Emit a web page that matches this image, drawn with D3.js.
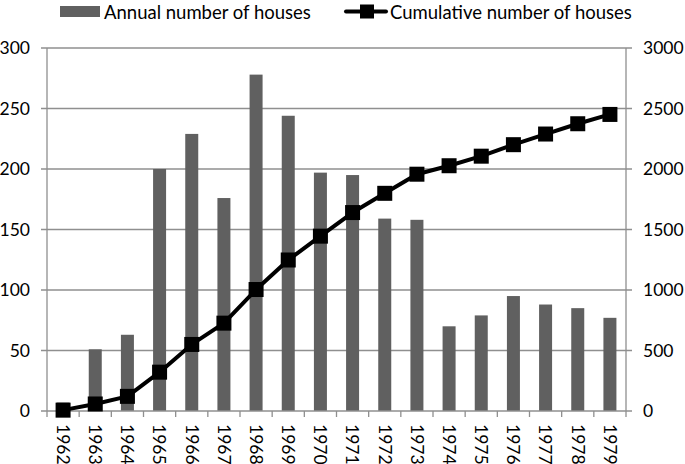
<!DOCTYPE html>
<html><head><meta charset="utf-8">
<script src="https://cdn.jsdelivr.net/npm/d3@7"></script>
<style>body{margin:0;background:#fff;} text{font-family:Lato,"Open Sans",sans-serif;}</style>
</head><body><svg id="c" width="685" height="464"></svg>
<script>
const years = ["1962","1963","1964","1965","1966","1967","1968","1969","1970","1971","1972","1973","1974","1975","1976","1977","1978","1979"];
const annual = [7,51,63,200,229,176,278,244,197,195,159,158,70,79,95,88,85,77];
const cumulative = [7,58,121,321,550,726,1004,1248,1445,1640,1799,1957,2027,2106,2201,2289,2374,2451];
const leftTicks = [0,50,100,150,200,250,300];
const rightTicks = [0,500,1000,1500,2000,2500,3000];

const svg = d3.select("#c");
const L = 47, R = 626, T = 48, B = 411;
const xb = d3.scaleBand().domain(years).range([L, R]);
const yL = d3.scaleLinear().domain([0,300]).range([B, T]);
const yR = d3.scaleLinear().domain([0,3000]).range([B, T]);
const grid = "#8f8f8f";

// gridlines
svg.append("g").selectAll("line").data(leftTicks.slice(1)).join("line")
  .attr("x1", L-6).attr("x2", R+6).attr("y1", d=>yL(d)).attr("y2", d=>yL(d))
  .attr("stroke", grid).attr("stroke-width", 1.3);

// bars
svg.append("g").selectAll("rect").data(annual).join("rect")
  .attr("x", (d,i)=>xb(years[i]) + xb.bandwidth()/2 - 6.5)
  .attr("width", 13)
  .attr("y", d=>yL(d)).attr("height", d=>B - yL(d))
  .attr("fill", "#606060");

// axes lines
svg.append("line").attr("x1", L).attr("x2", L).attr("y1", T).attr("y2", B).attr("stroke", grid).attr("stroke-width",1.3);
svg.append("line").attr("x1", R).attr("x2", R).attr("y1", T).attr("y2", B).attr("stroke", grid).attr("stroke-width",1.3);
svg.append("line").attr("x1", L-6).attr("x2", R+6).attr("y1", B).attr("y2", B).attr("stroke", grid).attr("stroke-width",1.3);
// bottom ticks at band boundaries
const bounds = years.map(d=>xb(d)).concat([R]);
svg.append("g").selectAll("line").data(bounds).join("line")
  .attr("x1", d=>d).attr("x2", d=>d).attr("y1", B).attr("y2", B+6)
  .attr("stroke", grid).attr("stroke-width",1.3);

// left labels
svg.append("g").selectAll("text").data(leftTicks).join("text")
  .attr("x", 30).attr("y", d=>yL(d)).attr("dy","0.35em").attr("text-anchor","end")
  .attr("font-size", 17.5).attr("fill","#000").text(d=>d);
// right labels
svg.append("g").selectAll("text").data(rightTicks).join("text")
  .attr("x", 643).attr("y", d=>yR(d)).attr("dy","0.35em").attr("text-anchor","start")
  .attr("font-size", 17.5).attr("fill","#000").text(d=>d);
// bottom labels rotated
svg.append("g").selectAll("text").data(years).join("text")
  .attr("transform", d=>`translate(${xb(d)+xb.bandwidth()/2},${B+13}) rotate(90)`)
  .attr("dy","0.35em").attr("text-anchor","start")
  .attr("font-size", 17.5).attr("fill","#000").text(d=>d);

// line
const line = d3.line().x((d,i)=>xb(years[i])+xb.bandwidth()/2).y(d=>yR(d));
svg.append("path").datum(cumulative).attr("d", line).attr("fill","none")
  .attr("stroke","#000").attr("stroke-width",4).attr("stroke-linejoin","round");
svg.append("g").selectAll("rect").data(cumulative).join("rect")
  .attr("x",(d,i)=>xb(years[i])+xb.bandwidth()/2-7.5).attr("y", d=>yR(d)-7.5)
  .attr("width",15).attr("height",15).attr("fill","#000");

// legend
svg.append("rect").attr("x",60).attr("y",6).attr("width",40).attr("height",11).attr("fill","#606060");
svg.append("text").attr("x",104).attr("y",18.5).attr("font-size",18.5).text("Annual number of houses");
svg.append("line").attr("x1",346).attr("x2",386).attr("y1",11.5).attr("y2",11.5).attr("stroke","#000").attr("stroke-width",4).attr("stroke-linecap","round");
svg.append("rect").attr("x",360).attr("y",4.5).attr("width",14).attr("height",14).attr("fill","#000");
svg.append("text").attr("x",390).attr("y",18.5).attr("font-size",18.5).text("Cumulative number of houses");
</script></body></html>
